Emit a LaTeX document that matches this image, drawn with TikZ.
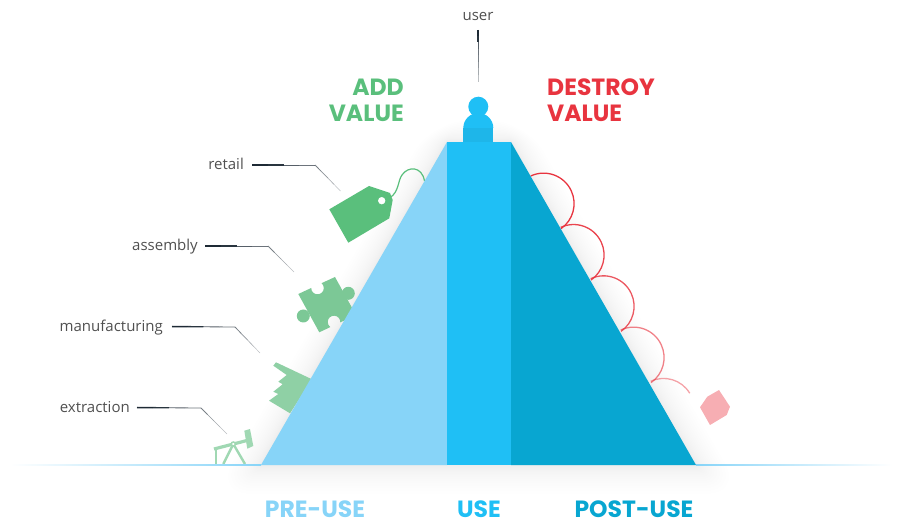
\documentclass[tikz,border=0pt]{standalone}
\usepackage{fontspec}
\setmainfont{Open Sans}
\newfontfamily\headfont{Poppins}
\usetikzlibrary{calc}
\definecolor{paleblue}{HTML}{87D4F8}
\definecolor{midblue}{HTML}{1FBFF5}
\definecolor{deepblue}{HTML}{08A6D1}
\definecolor{tagg}{HTML}{5ABF7C}
\definecolor{puzzleg}{HTML}{7CC896}
\definecolor{factg}{HTML}{8FD0A5}
\definecolor{pumpg}{HTML}{A0D8B3}
\definecolor{redl}{HTML}{E8343F}
\definecolor{redp}{HTML}{F7AEB3}
\definecolor{addg}{HTML}{5ABF7C}
\definecolor{leaderc}{HTML}{1E2A35}
\definecolor{labelc}{HTML}{505050}
\tikzset{
  lbl/.style={anchor=east,inner sep=0pt,text height=10pt,text depth=0pt,text=labelc,font=\fontsize{15}{18}\selectfont},
  head/.style={inner sep=0pt,font=\headfont\bfseries\fontsize{23.5}{26}\selectfont},
  foot/.style={inner sep=0pt,anchor=center,font=\headfont\bfseries\fontsize{23.5}{26}\selectfont},
  scallop/.style={draw=redl,line width=1.3pt,fill=none},
}
\newcommand\leaderline[3]{%
  \foreach \a/\b/\w/\o in {0/.25/1.5/1,.25/.5/1.3/.95,.5/.75/.9/.75,.75/1/.8/.65}
    \draw[leaderc,line width=\w pt,opacity=\o] ($(#1)!\a!(#2)$) -- ($(#1)!\b!(#2)$);
  \foreach \a/\b/\w/\o in {0/.25/.8/.6,.25/.5/.7/.5,.5/.75/.6/.4,.75/1/.5/.3}
    \draw[leaderc,line width=\w pt,opacity=\o] ($(#2)!\a!(#3)$) -- ($(#2)!\b!(#3)$);
}
\begin{document}
\begin{tikzpicture}[x=1pt,y=-1pt]
\useasboundingbox (0,0) rectangle (919,521);
% shadow
\foreach \k in {1,...,20} {
  \pgfmathsetmacro\d{36*(\k/20)*(\k/20)}
  \fill[black,opacity=.005,rounded corners=\d pt] (447-.4*\d,142-.6*\d) -- (511+.4*\d,142-.6*\d) -- (696+1.3*\d,465+.8*\d) -- (261-1.3*\d,465+.8*\d) -- cycle;
}
% icons
\fill[tagg,even odd rule] (329.3,209.3) -- (369,186) -- (390,193) -- (392.7,200) -- (389.3,218.3) -- (348.3,242.7) -- cycle
  (381.7,200.7) circle[radius=3.8pt];
\draw[tagg,line width=1.2pt] (390,197.7) .. controls (399,192) and (398,180) .. (402,175) .. controls (408,166) and (422,166) .. (424.5,181);
% puzzle
\fill[puzzleg] (298.3,294) -- (311.2,288) arc[start angle=180,end angle=410,radius=6.3pt] -- (335,277) -- (356,315) -- (340.3,322.4) arc[start angle=-3.6,end angle=234,radius=6.3pt] -- (319.3,332.3) -- cycle;
\fill[puzzleg] (348.3,293.3) circle[radius=6.5pt] (303.3,316) circle[radius=6.5pt];
% factory
\fill[factg] (276,362.3) -- (273.3,365.7) -- (286.7,375) -- (278.3,381.7) -- (282.7,384.3) -- (273.3,391.7) -- (278.3,394) -- (269,400.7) -- (290,413.3) -- (312,379.3) -- cycle;
% pumpjack
\fill[pumpg] (244.3,430.7) -- (250,429) -- (253.3,446) -- (247.3,448.7) -- cycle;
\draw[pumpg,line width=3.2pt] (214,449) -- (247,440.5);
\draw[pumpg,line width=2.2pt] (216,449) -- (216,465);
\draw[pumpg,line width=2.4pt] (233.3,444) -- (223.3,464) (233.3,444) -- (245,464);
\draw[pumpg,line width=1.5pt,fill=white] (233.3,444) circle[radius=2pt];
% scallops
\draw[scallop] (530.7,176) arc[start angle=115,end angle=-55,radius=30.5pt];
\draw[scallop,opacity=.92] (560.7,227.4) arc[start angle=115,end angle=-55,radius=30.5pt];
\draw[scallop,opacity=.82] (590.7,278.7) arc[start angle=115,end angle=-55,radius=30.5pt];
\draw[scallop,opacity=.62] (620.7,330) arc[start angle=115,end angle=-55,radius=30.5pt];
\draw[scallop,opacity=.45] (650.7,381.3) arc[start angle=115,end angle=31,radius=30.5pt];
\fill[redp] (700,407.3) -- (707.3,396.7) -- (719,390) -- (730,406.7) -- (726.7,415) -- (710,425) -- cycle;
% ground
\fill[left color=white,right color=paleblue] (10,464.2) rectangle (261,465.8);
\fill[left color=paleblue,right color=white] (696,464.2) rectangle (892,465.8);
% pyramid
\fill[paleblue] (447,142) -- (447,465) -- (261,465) -- cycle;
\fill[deepblue] (511,142) -- (696,465) -- (511,465) -- cycle;
\fill[midblue] (447,142) rectangle (511,465);
% person
\fill[midblue] (478.3,106.7) circle[radius=10pt];
\fill[midblue] (463.3,128) arc[start angle=180,end angle=0,radius=15pt] -- cycle;
\fill[midblue!95!black] (463.3,128) rectangle (493.3,142);
% labels
\node[anchor=south,inner sep=0pt,text depth=9pt,text=labelc,font=\fontsize{15}{18}\selectfont] (user) at (478,30) {user};
\node[lbl] (retail) at (252,165) {\mbox{retail\kern8pt}};
\node[lbl] (assembly) at (205,246) {\mbox{assembly\kern7pt}};
\node[lbl] (manufacturing) at (172,326.5) {\mbox{manufacturing\kern9pt}};
\node[lbl] (extraction) at (137,407.5) {\mbox{extraction\kern7pt}};
\coordinate (retailc) at (315,165);
\coordinate (retaile) at (340.5,191);
\coordinate (assemblyc) at (268,246);
\coordinate (assemblye) at (294,272);
\coordinate (manufacturingc) at (235,327);
\coordinate (manufacturinge) at (260,353);
\coordinate (extractionc) at (201,408);
\coordinate (extractione) at (227,434);
\coordinate (userc) at (478,55);
\coordinate (usere) at (478,82);
\leaderline{retail.east}{retailc}{retaile}
\leaderline{assembly.east}{assemblyc}{assemblye}
\leaderline{manufacturing.east}{manufacturingc}{manufacturinge}
\leaderline{extraction.east}{extractionc}{extractione}
\leaderline{user.south}{userc}{usere}
\node[head,text=addg,align=right,anchor=north east] (add) at (404,79) {ADD\\VALUE};
\node[head,text=redl,align=left,anchor=north west] (destroy) at (547,79) {DESTROY\\VALUE};
\node[foot,text=paleblue] (pre) at (315,509) {PRE-USE};
\node[foot,text=midblue] (use) at (479,509) {USE};
\node[foot,text=deepblue] (post) at (634,509) {POST-USE};
\end{tikzpicture}
\end{document}
